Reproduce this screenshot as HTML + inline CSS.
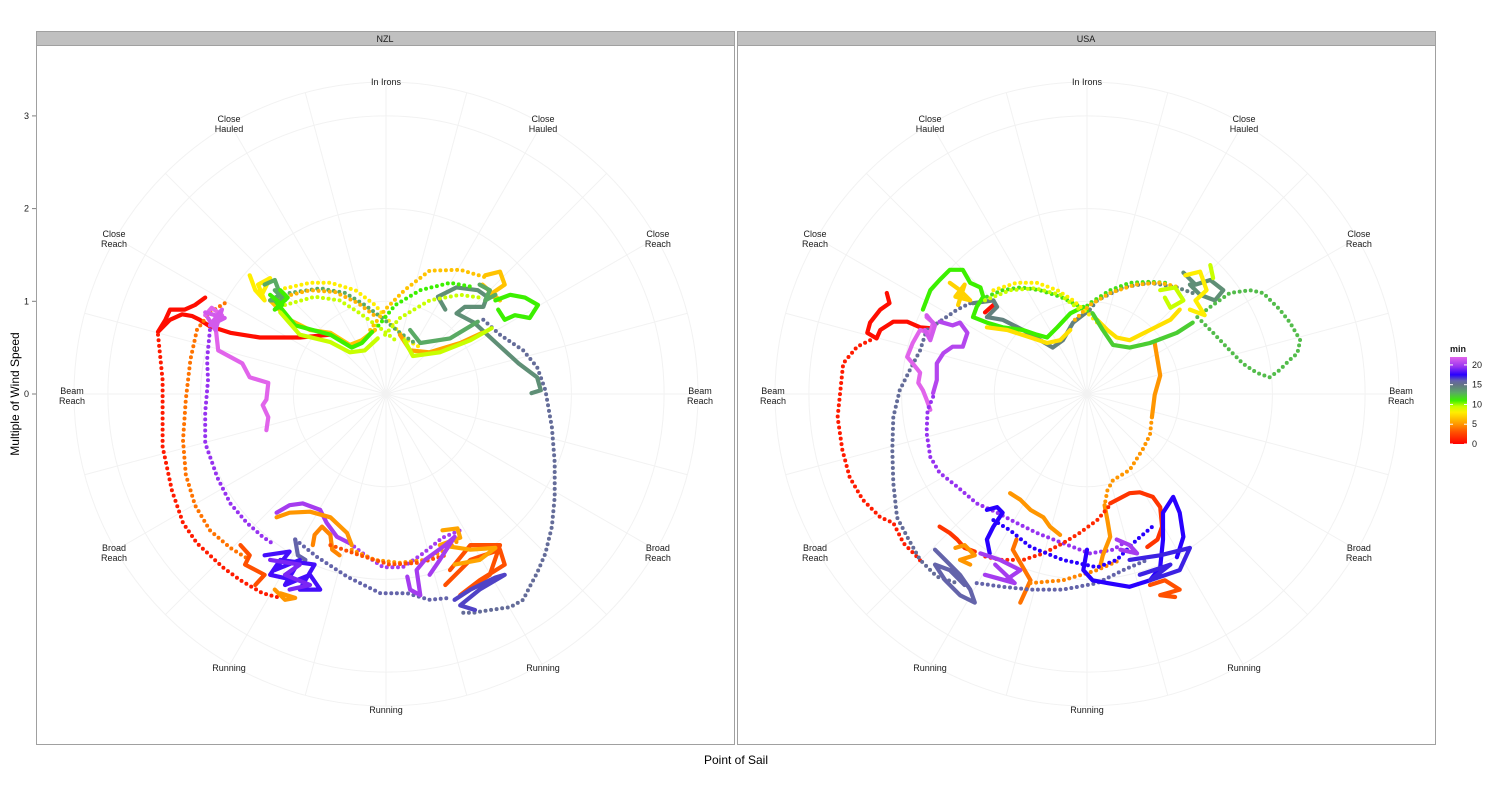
<!DOCTYPE html>
<html><head><meta charset="utf-8">
<style>
body{margin:0;background:#fff;font-family:"Liberation Sans",sans-serif;}
svg text{font-family:"Liberation Sans",sans-serif;}
</style></head>
<body>
<svg id="chart" width="1512" height="792" viewBox="0 0 1512 792" xmlns="http://www.w3.org/2000/svg">
<rect x="0" y="0" width="1512" height="792" fill="#fff"/>
<g id="panels"></g>
<text x="19" y="394" font-size="12" text-anchor="middle" transform="rotate(-90 19 394)">Multiple of Wind Speed</text>
<text x="736" y="764" font-size="12" text-anchor="middle">Point of Sail</text>
<g id="legend"></g>
</svg>
<script>
// ---- data ----
const yTicks = [0,1,2,3];
const pointLabels = [["In Irons"],["Close","Hauled"],["Close","Reach"],["Beam","Reach"],["Broad","Reach"],["Running"],["Running"],["Running"],["Broad","Reach"],["Beam","Reach"],["Close","Reach"],["Close","Hauled"]];
const legendTicks = [0,5,10,15,20];
const facets = ["NZL","USA"];
// tracks: [minute, style('s' solid,'d' dotted), [crosswind, upwind components in multiples of wind speed...]]
const nzlTracks = [
[0.5,'s',[-1.95,1.04,-2.06,0.96,-2.17,0.91,-2.33,0.91,-2.38,0.80,-2.46,0.67,-2.33,0.80,-2.20,0.86,-2.09,0.84,-2.01,0.80,-1.90,0.73,-1.68,0.66,-1.36,0.61,-0.93,0.61,-0.60,0.64]],
[1,'d',[-2.46,0.64,-2.41,0.15,-2.41,-0.57,-2.31,-1.04,-2.19,-1.39,-2.04,-1.61,-1.76,-1.87,-1.57,-2.01,-1.33,-2.15,-1.14,-2.20]],
[4,'d',[-1.74,0.98,-1.90,0.88,-2.04,0.69,-2.11,0.37,-2.16,-0.06,-2.19,-0.50,-2.16,-0.87,-2.06,-1.20,-1.90,-1.47,-1.68,-1.66,-1.47,-1.79]],
[19.5,'d',[-1.90,0.69,-1.93,0.37,-1.92,0.15,-1.95,-0.20,-1.95,-0.53,-1.82,-0.90,-1.68,-1.18,-1.50,-1.39,-1.33,-1.54,-1.20,-1.63]],
[22,'s',[-1.95,0.85,-1.88,0.93,-1.77,0.85,-1.84,0.74,-1.81,0.47,-1.55,0.33,-1.47,0.18,-1.27,0.12,-1.29,-0.06,-1.33,-0.12,-1.27,-0.25,-1.29,-0.39]],
[21.5,'s',[-1.95,0.88,-1.74,0.82,-1.90,0.74,-1.77,0.91,-1.84,0.69,-1.92,0.82]],
[15.5,'d',[1.05,0.80,1.23,0.64,1.48,0.47,1.63,0.29,1.72,0.04,1.79,-0.36,1.82,-0.74,1.82,-1.11,1.79,-1.43,1.72,-1.72,1.63,-1.93,1.55,-2.08,1.48,-2.22,1.34,-2.30,1.12,-2.33,0.94,-2.36,0.80,-2.36]],
[14,'s',[0.64,0.91,0.56,1.05,0.76,1.15,0.99,1.12,1.09,1.05,1.05,0.94,0.85,0.94,0.76,0.87,0.95,0.77,1.19,0.55,1.43,0.33,1.63,0.18,1.67,0.04,1.57,0.01]],
[8,'d',[-1.09,1.14,-0.82,1.20,-0.60,1.20,-0.33,1.12,-0.12,0.96,0.04,0.78,0.20,0.60,0.37,0.50]],
[13,'d',[-1.04,1.09,-0.71,1.14,-0.44,1.09,-0.23,0.96,-0.04,0.82,0.15,0.66,0.31,0.55]],
[9.5,'d',[-1.09,0.96,-0.77,1.05,-0.50,1.01,-0.28,0.87,-0.06,0.71,0.10,0.58]],
[6,'d',[-1.14,1.04,-0.82,1.12,-0.55,1.10,-0.30,0.98,-0.09,0.82]],
[6.5,'d',[-0.17,0.69,-0.01,0.91,0.20,1.12,0.47,1.33,0.80,1.34,1.07,1.26]],
[11,'d',[-0.12,0.69,0.10,0.96,0.37,1.12,0.69,1.20,0.96,1.15]],
[9.5,'d',[-0.01,0.64,0.15,0.82,0.47,1.01,0.80,1.07,1.01,1.04]],
[6.5,'s',[-1.25,1.01,-1.04,0.80,-0.82,0.69,-0.60,0.66,-0.39,0.53,-0.26,0.58,-0.12,0.69]],
[11,'s',[-1.20,1.01,-0.98,0.74,-0.60,0.64,-0.37,0.50,-0.26,0.55,-0.15,0.67]],
[9.5,'s',[-1.14,0.88,-0.93,0.64,-0.60,0.56,-0.39,0.45,-0.23,0.47,-0.09,0.60]],
[5.5,'s',[0.15,0.64,0.26,0.47,0.47,0.45,0.80,0.55,1.04,0.66]],
[9.5,'s',[0.20,0.58,0.29,0.41,0.58,0.45,0.91,0.58,1.14,0.71]],
[13,'s',[0.26,0.69,0.37,0.55,0.69,0.60,0.99,0.78]],
[8,'s',[-1.47,1.28,-1.41,1.12,-1.31,1.01,-1.38,1.18,-1.25,1.25,-1.34,1.07]],
[13,'s',[-1.31,1.18,-1.20,1.23,-1.14,1.07,-1.25,1.01,-1.09,1.01,-1.20,1.12]],
[11,'s',[-1.25,1.07,-1.12,0.96,-1.20,0.91,-1.06,1.04,-1.14,1.12]],
[6.5,'s',[1.07,1.28,1.23,1.32,1.28,1.18,1.12,1.07,1.23,1.01,1.04,1.18]],
[11,'s',[1.18,1.01,1.34,1.07,1.50,1.04,1.64,0.96,1.55,0.82,1.39,0.85,1.28,0.80,1.21,0.91]],
[13,'s',[1.01,1.18,1.12,1.12,1.07,1.01,1.18,1.07]],
[20,'s',[-1.18,-1.28,-1.04,-1.20,-0.90,-1.18,-0.71,-1.25,-0.64,-1.39,-0.53,-1.54,-0.39,-1.61]],
[20,'d',[-0.39,-1.61,-0.25,-1.72,-0.03,-1.87,0.18,-1.87,0.40,-1.72,0.61,-1.55,0.80,-1.47]],
[5,'s',[-1.18,-1.33,-1.04,-1.28,-0.82,-1.27,-0.60,-1.33,-0.42,-1.50,-0.37,-1.63]],
[5,'d',[-0.37,-1.68,-0.12,-1.79,0.15,-1.82,0.42,-1.79,0.64,-1.68,0.80,-1.57]],
[4.5,'s',[-0.79,-1.63,-0.77,-1.52,-0.69,-1.43,-0.60,-1.52,-0.58,-1.68,-0.50,-1.74]],
[3,'d',[-0.60,-1.63,-0.28,-1.74,0.04,-1.84,0.37,-1.82,0.64,-1.74]],
[16,'d',[-0.98,-1.57,-0.74,-1.76,-0.42,-1.97,-0.06,-2.15,0.23,-2.15,0.47,-2.22,0.69,-2.20]],
[16,'s',[-0.98,-1.57,-0.95,-1.74,-0.87,-1.79]],
[3,'s',[-1.57,-1.63,-1.47,-1.74,-1.52,-1.84,-1.31,-1.95,-1.41,-2.06]],
[5,'s',[-1.20,-2.11,-1.09,-2.22,-0.98,-2.20,-1.14,-2.15]],
[18,'s',[-1.31,-1.74,-1.04,-1.70,-1.20,-1.90,-0.93,-1.79,-1.09,-2.06,-0.82,-1.95,-0.71,-2.11,-0.93,-2.11,-0.77,-1.84,-1.14,-1.79,-1.25,-1.95,-0.98,-2.01]],
[19,'s',[-1.25,-1.79,-0.93,-1.84,-1.09,-1.95,-0.82,-2.06,-1.04,-2.11]],
[3,'s',[0.64,-2.06,0.91,-1.79,1.23,-1.68,1.28,-1.84,1.01,-2.01,0.80,-2.17,1.12,-1.95,1.23,-1.63,0.91,-1.63,0.69,-1.90]],
[5.5,'s',[0.61,-1.47,0.77,-1.45,0.80,-1.55,0.58,-1.63,0.91,-1.68,1.18,-1.66,1.01,-1.79,0.74,-1.84]],
[20,'s',[0.23,-1.97,0.26,-2.11,0.37,-2.17,0.33,-1.90,0.42,-1.79,0.64,-1.63,0.74,-1.54,0.58,-1.79,0.47,-1.95]],
[16.5,'s',[0.74,-2.22,0.91,-2.11,1.18,-1.98,1.28,-1.95,1.01,-2.11,0.80,-2.28,0.96,-2.33]]
];
const usaTracks = [
[0.5,'s',[-2.16,1.09,-2.13,0.98,-2.23,0.91,-2.34,0.77,-2.37,0.66,-2.27,0.60,-2.23,0.69,-2.09,0.78,-1.94,0.78,-1.80,0.72,-1.69,0.71]],
[0.5,'s',[-1.10,0.88,-1.01,0.96]],
[1,'d',[-2.34,0.58,-2.48,0.51,-2.63,0.33,-2.66,0.04,-2.69,-0.25,-2.64,-0.60,-2.56,-0.90,-2.42,-1.14,-2.23,-1.33,-2.09,-1.39,-1.98,-1.61,-1.83,-1.76,-1.78,-1.82]],
[15.5,'d',[-1.26,0.98,-1.40,0.91,-1.59,0.78,-1.73,0.69,-1.80,0.47,-1.91,0.26,-2.02,0.04,-2.09,-0.25,-2.10,-0.60,-2.09,-0.96,-2.05,-1.33,-1.94,-1.54,-1.80,-1.79,-1.62,-1.97,-1.40,-2.04]],
[16,'s',[-1.64,-1.68,-1.53,-1.79,-1.37,-1.95,-1.26,-2.11,-1.21,-2.25,-1.37,-2.17,-1.53,-2.01,-1.64,-1.84,-1.48,-1.90,-1.32,-2.06]],
[14.5,'s',[-1.23,0.98,-1.01,1.01,-0.97,0.94,-1.08,0.83,-0.91,0.80,-0.69,0.69,-0.47,0.56,-0.37,0.50,-0.26,0.58,-0.15,0.77,0.03,0.91]],
[14.5,'d',[0.03,0.91,0.11,1.01,0.39,1.15,0.68,1.20,0.97,1.15,1.14,1.09]],
[14,'s',[1.04,1.31,1.17,1.18,1.33,1.23,1.47,1.12,1.38,1.01,1.22,1.07,1.11,1.18]],
[22,'s',[-1.73,0.83,-1.66,0.77,-1.69,0.66,-1.80,0.69,-1.88,0.55,-1.94,0.40,-1.88,0.33,-1.80,0.23,-1.82,0.12,-1.77,0.04,-1.73,-0.06,-1.69,-0.17]],
[21.5,'s',[-1.73,0.85,-1.64,0.74,-1.69,0.58,-1.75,0.69]],
[20.5,'s',[-1.59,0.78,-1.45,0.74,-1.37,0.77,-1.29,0.66,-1.34,0.51,-1.45,0.51,-1.55,0.44,-1.62,0.33,-1.62,0.15,-1.66,0.01]],
[19.5,'d',[-1.66,-0.03,-1.72,-0.17,-1.73,-0.42,-1.69,-0.68,-1.59,-0.85,-1.40,-1.00,-1.19,-1.18,-0.97,-1.28,-0.76,-1.39,-0.54,-1.50,-0.26,-1.61,0.03,-1.72,0.28,-1.68,0.39,-1.61]],
[5,'s',[0.73,0.55,0.76,0.37,0.79,0.20,0.73,-0.01,0.70,-0.25]],
[5,'d',[0.70,-0.25,0.68,-0.44,0.60,-0.60,0.46,-0.82,0.28,-0.93,0.22,-1.04,0.19,-1.20]],
[5,'s',[0.19,-1.20,0.22,-1.36,0.25,-1.54,0.17,-1.74,0.14,-1.87]],
[2,'s',[0.25,-1.18,0.46,-1.07,0.57,-1.06,0.71,-1.11,0.79,-1.22,0.81,-1.43,0.76,-1.57,0.65,-1.65]],
[1.5,'d',[0.23,-1.22,0.11,-1.36,-0.08,-1.50,-0.26,-1.61,-0.47,-1.72,-0.69,-1.79,-0.94,-1.79,-1.15,-1.74]],
[2,'s',[-1.59,-1.43,-1.48,-1.50,-1.40,-1.57,-1.32,-1.66,-1.21,-1.70]],
[5,'s',[-0.83,-1.07,-0.72,-1.14,-0.61,-1.25,-0.47,-1.33,-0.40,-1.43,-0.29,-1.52]],
[4,'s',[-0.76,-1.57,-0.80,-1.68,-0.72,-1.82,-0.61,-2.01,-0.72,-2.25]],
[5,'s',[-1.42,-1.66,-1.32,-1.63,-1.21,-1.74,-1.37,-1.79,-1.26,-1.84]],
[16,'d',[-1.19,-2.04,-0.91,-2.08,-0.61,-2.11,-0.26,-2.11,0.11,-2.04,0.39,-1.90,0.65,-1.79]],
[4.5,'d',[-0.61,-2.04,-0.26,-2.01,0.11,-1.90,0.36,-1.79]],
[17.5,'s',[-1.08,-1.25,-0.97,-1.22,-0.91,-1.28,-1.01,-1.43,-1.08,-1.57,-1.05,-1.72]],
[17.5,'s',[0,-1.68,-0.04,-1.90,0.06,-2.01,0.22,-2.04,0.46,-2.08,0.68,-2.01,0.79,-1.87,0.82,-1.57,0.82,-1.28,0.93,-1.11,1.00,-1.28,1.04,-1.54,0.97,-1.76]],
[17.5,'d',[-1.01,-1.36,-0.83,-1.47,-0.61,-1.65,-0.26,-1.79,0.11,-1.87,0.32,-1.79,0.54,-1.57,0.73,-1.41]],
[20,'s',[-1.15,-1.72,-0.94,-1.79,-0.72,-1.90,-0.88,-2.01,-1.10,-1.95,-0.78,-2.04,-0.99,-1.84]],
[20,'s',[0.32,-1.57,0.46,-1.63,0.54,-1.72,0.36,-1.68]],
[17,'s',[0.46,-1.79,0.79,-1.74,1.11,-1.66,1.00,-1.90,0.68,-2.01,0.90,-1.84,0.57,-1.95]],
[3,'s',[0.68,-2.06,0.84,-2.01,1.00,-2.11,0.79,-2.17,0.95,-2.19]],
[11,'s',[-1.77,0.91,-1.69,1.12,-1.59,1.23,-1.48,1.34,-1.34,1.34,-1.26,1.20,-1.15,1.15,-1.12,1.05,-1.19,0.94,-1.23,0.83,-1.08,0.77,-0.91,0.72,-0.69,0.69,-0.54,0.64,-0.43,0.61,-0.32,0.72,-0.18,0.87,-0.04,0.94]],
[11.5,'d',[-1.08,1.05,-0.91,1.12,-0.72,1.15,-0.51,1.12,-0.29,1.05,-0.11,0.96,0.06,0.87]],
[11.5,'d',[-0.04,0.91,0.03,0.98,0.25,1.12,0.46,1.20,0.68,1.21,0.86,1.20]],
[8,'d',[-1.01,1.12,-0.76,1.20,-0.54,1.20,-0.32,1.12,-0.15,1.01,0.03,0.85,0.14,0.74]],
[9.5,'d',[-1.10,1.01,-0.83,1.12,-0.56,1.14,-0.29,1.07,-0.08,0.91]],
[6,'d',[-0.13,0.80,0.03,0.96,0.25,1.09,0.52,1.18,0.79,1.20,1.00,1.15]],
[7,'s',[-1.48,1.20,-1.37,1.12,-1.26,1.01,-1.42,1.05,-1.32,1.18,-1.39,0.96]],
[7.5,'s',[-1.08,0.72,-0.86,0.69,-0.61,0.61,-0.43,0.55,-0.29,0.58,-0.18,0.69]],
[7.5,'s',[0.11,0.80,0.22,0.69,0.32,0.61,0.46,0.58,0.68,0.69,0.90,0.80,1.00,0.91]],
[12,'s',[0.06,0.87,0.17,0.69,0.28,0.53,0.46,0.50,0.68,0.55,0.97,0.66,1.14,0.77]],
[12.5,'d',[1.19,0.83,1.33,0.94,1.54,1.09,1.76,1.12,1.90,1.09,2.08,0.91,2.19,0.77,2.30,0.58,2.27,0.44,2.19,0.37,2.08,0.26,1.97,0.18,1.83,0.23,1.68,0.33,1.54,0.47,1.36,0.66,1.22,0.80]],
[8,'s',[1.06,1.28,1.22,1.32,1.29,1.12,1.17,1.01,1.27,0.85,1.11,0.91]],
[9.5,'s',[0.79,1.12,0.95,1.15,1.04,1.01,0.90,0.93,0.84,1.04]],
[9.5,'s',[1.33,1.39,1.36,1.25]]
];
const colorStops = [[0,[255,0,0]],[3,[255,80,0]],[5,[255,150,0]],[7,[255,210,0]],[8,[255,238,0]],[9.5,[200,255,0]],[11,[60,240,0]],[13,[90,170,100]],[15,[100,115,135]],[16,[100,100,170]],[17.5,[40,0,255]],[19.5,[150,50,240]],[22,[225,100,235]]];

// ---- rendering ----
const NS='http://www.w3.org/2000/svg';
const UNIT=92.7, OUTER=312, LABEL_R=314;
const panelX=[36,737], panelW=698, panelTop=31, stripH=14, panelBottom=744;
const centers=[[386,394],[1087,394]];
function mk(tag,attrs,parent){const e=document.createElementNS(NS,tag);for(const k in attrs)e.setAttribute(k,attrs[k]);if(parent)parent.appendChild(e);return e;}
function colorFor(m){
  for(let i=0;i<colorStops.length-1;i++){const a=colorStops[i],b=colorStops[i+1];
    if(m<=b[0]){const t=Math.max(0,(m-a[0])/(b[0]-a[0]));const c=a[1].map((v,j)=>Math.round(v+(b[1][j]-v)*t));return 'rgb('+c.join(',')+')';}}
  return 'rgb('+colorStops[colorStops.length-1][1].join(',')+')';
}
function rScale(v){return v*UNIT;}
const root=document.getElementById('panels');
facets.forEach((f,pi)=>{
  const g=mk('g',{},root);
  
  
  const x0=panelX[pi], [cx,cy]=centers[pi];
  const bg=mk('rect',{x:x0+0.5,y:panelTop+stripH+0.5,width:panelW,height:panelBottom-panelTop-stripH,fill:'#fff',stroke:'#a0a0a0','stroke-width':1},g);
  
  
  const strip=mk('rect',{x:x0+0.5,y:panelTop+0.5,width:panelW,height:stripH,fill:'#c0c0c0',stroke:'#a0a0a0','stroke-width':1},g);
  
  
  const st=mk('text',{x:x0+panelW/2,y:panelTop+11,'font-size':9,'text-anchor':'middle',fill:'#1a1a1a'},g);
  st.textContent=f;
  
  
  const grid=mk('g',{stroke:'#f2f2f2','stroke-width':1,fill:'none'},g);
  
  
  for(let a=0;a<360;a+=15){const rad=a*Math.PI/180;
    mk('line',{x1:cx,y1:cy,x2:cx+OUTER*Math.sin(rad),y2:cy-OUTER*Math.cos(rad)},grid);}
  yTicks.slice(1).forEach(t=>mk('circle',{cx:cx,cy:cy,r:rScale(t)},grid));
  mk('circle',{cx:cx,cy:cy,r:OUTER},grid);
  pointLabels.forEach((lab,i)=>{const rad=i*30*Math.PI/180;
    const lx=cx+LABEL_R*Math.sin(rad), ly=cy-LABEL_R*Math.cos(rad);
    const t=mk('text',{x:lx,'font-size':9,'text-anchor':'middle',fill:'#1a1a1a'},g);
    
    
    lab.forEach((line,li)=>{const ts=mk('tspan',{x:lx,y:ly+5+(li-(lab.length-1)/2)*10},t);ts.textContent=line;});
  });
  const tracks = pi===0?nzlTracks:usaTracks;
  const tg=mk('g',{fill:'none','stroke-linecap':'round','stroke-linejoin':'round'},g);
  
  
  tracks.forEach(tr=>{
    const [m,style,pts]=tr; let d='';
    for(let i=0;i<pts.length;i+=2){d+=(i?'L':'M')+(cx+rScale(pts[i])).toFixed(1)+','+(cy-rScale(pts[i+1])).toFixed(1);}
    const p=mk('path',{d:d,stroke:colorFor(m),'stroke-width':style==='s'?4.2:4},tg);
    if(style==='d')p.setAttribute('stroke-dasharray','0 5.6');
    
    
  });
});
// y axis
const ax=document.getElementById('chart');
yTicks.forEach(t=>{const y=394-rScale(t);
  const tl=mk('text',{x:29,y:y+3,'font-size':9,'text-anchor':'end',fill:'#1a1a1a'},ax);
  tl.textContent=t;
  
  
  mk('line',{x1:32,x2:36,y1:y,y2:y,stroke:'#7f7f7f'},ax);
});
// legend
const lg=document.getElementById('legend');
const lt=mk('text',{x:1450,y:352,'font-size':9,'font-weight':'bold',fill:'#1a1a1a'},lg);
lt.textContent='min';


const defs=mk('defs',{},lg);
const grad=mk('linearGradient',{id:'lgrad',x1:0,y1:1,x2:0,y2:0},defs);
colorStops.forEach(s=>mk('stop',{offset:(s[0]/22),'stop-color':colorFor(s[0])},grad));
const bar=mk('rect',{x:1450,y:357,width:17,height:87,fill:'url(#lgrad)'},lg);


legendTicks.forEach(t=>{const y=444-t/22*87;
  mk('line',{x1:1450,x2:1453,y1:y,y2:y,stroke:'#fff'},lg);
  mk('line',{x1:1464,x2:1467,y1:y,y2:y,stroke:'#fff'},lg);
  const tx=mk('text',{x:1472,y:y+3,'font-size':9,fill:'#1a1a1a'},lg);
  tx.textContent=t;
  
  
});
</script>
</body></html>
